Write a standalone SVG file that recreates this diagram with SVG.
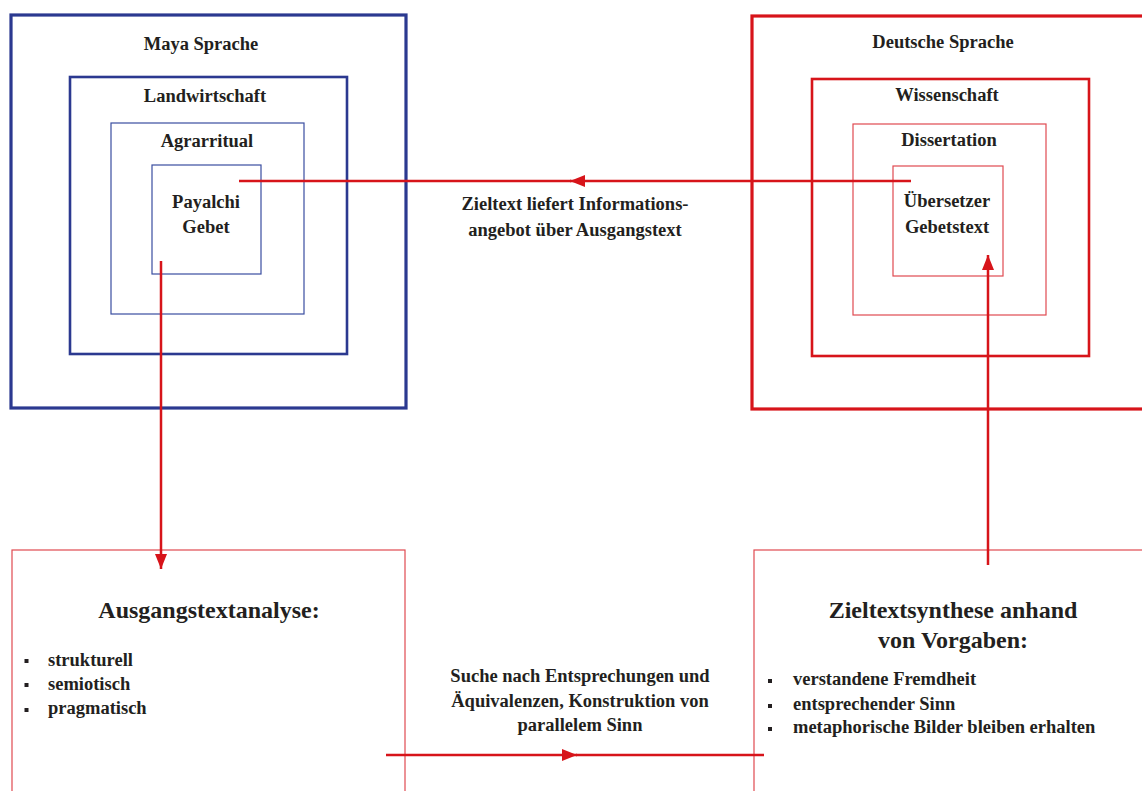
<svg xmlns="http://www.w3.org/2000/svg" width="1142" height="791" viewBox="0 0 1142 791">
<style>
text{font-family:"Liberation Serif","DejaVu Serif",serif;font-weight:bold;fill:#231f20;font-size:18.5px}
.c{text-anchor:middle}
.h{font-size:24px}
.b1{fill:none;stroke:#2b3990;stroke-width:3.2}
.b2{fill:none;stroke:#2b3990;stroke-width:2.6}
.b3{fill:none;stroke:#3a4ea0;stroke-width:1.2}
.r1{fill:none;stroke:#d7141a;stroke-width:3.2}
.r2{fill:none;stroke:#d7141a;stroke-width:2.6}
.r3{fill:none;stroke:#e04a50;stroke-width:1.2}
.con{fill:none;stroke:#d7141a;stroke-width:2.5}
.bul{fill:#231f20}
</style>
<defs>
<marker id="ah" markerUnits="userSpaceOnUse" markerWidth="15" markerHeight="12" refX="15" refY="6" orient="auto">
<path d="M0,0 L15,6 L0,12 z" fill="#d7141a"/>
</marker>
</defs>
<rect width="1142" height="791" fill="#fff"/>
<g id="maya-sprache">
<rect class="b1" x="11" y="15" width="395" height="393"/>
<text class="c" x="201" y="50">Maya Sprache</text>
</g>
<g id="landwirtschaft">
<rect class="b2" x="70" y="77" width="277" height="277"/>
<text class="c" x="205" y="102">Landwirtschaft</text>
</g>
<g id="agrarritual">
<rect class="b3" x="111" y="123" width="193" height="191"/>
<text class="c" x="207" y="147">Agrarritual</text>
</g>
<g id="payalchi">
<rect class="b3" x="152" y="165" width="109" height="109"/>
<text class="c" x="206" y="208">Payalchi</text>
<text class="c" x="206" y="233">Gebet</text>
</g>
<g id="deutsche-sprache">
<rect class="r1" x="752" y="16" width="420" height="393"/>
<text class="c" x="943" y="48">Deutsche Sprache</text>
</g>
<g id="wissenschaft">
<rect class="r2" x="812" y="79" width="277" height="277"/>
<text class="c" x="947" y="101">Wissenschaft</text>
</g>
<g id="dissertation">
<rect class="r3" x="853" y="124" width="193" height="191"/>
<text class="c" x="949" y="146">Dissertation</text>
</g>
<g id="uebersetzer">
<rect class="r3" x="893" y="166" width="110" height="110"/>
<text class="c" x="947" y="207">Übersetzer</text>
<text class="c" x="947" y="233">Gebetstext</text>
</g>
<g id="ausgangstextanalyse">
<rect class="r3" x="12" y="550" width="393" height="260"/>
<text class="c h" x="209" y="618">Ausgangstextanalyse:</text>
<rect class="bul" x="24.5" y="659" width="4" height="4"/>
<rect class="bul" x="24.5" y="683" width="4" height="4"/>
<rect class="bul" x="24.5" y="708" width="4" height="4"/>
<text x="48" y="666">strukturell</text>
<text x="48" y="690">semiotisch</text>
<text x="48" y="714">pragmatisch</text>
</g>
<g id="zieltextsynthese">
<rect class="r3" x="754" y="550" width="420" height="260"/>
<text class="c h" x="953" y="618">Zieltextsynthese anhand</text>
<text class="c h" x="953" y="648">von Vorgaben:</text>
<rect class="bul" x="768" y="679" width="4" height="4"/>
<rect class="bul" x="768" y="704" width="4" height="4"/>
<rect class="bul" x="768" y="727" width="4" height="4"/>
<text x="793" y="685">verstandene Fremdheit</text>
<text x="793" y="710">entsprechender Sinn</text>
<text x="793" y="733">metaphorische Bilder bleiben erhalten</text>
</g>
<g id="connectors">
<path class="con" d="M911,181 L570,181" marker-end="url(#ah)"/>
<path class="con" d="M571,181 L239,181"/>
<path class="con" d="M161,261 L161,569" marker-end="url(#ah)"/>
<path class="con" d="M988,565 L988,255" marker-end="url(#ah)"/>
<path class="con" d="M386,755 L577,755" marker-end="url(#ah)"/>
<path class="con" d="M576,755 L764,755"/>
<text class="c" x="575" y="210">Zieltext liefert Informations-</text>
<text class="c" x="575" y="236">angebot über Ausgangstext</text>
<text class="c" x="580" y="682">Suche nach Entsprechungen und</text>
<text class="c" x="580" y="707">Äquivalenzen, Konstruktion von</text>
<text class="c" x="580" y="731">parallelem Sinn</text>
</g>
</svg>
